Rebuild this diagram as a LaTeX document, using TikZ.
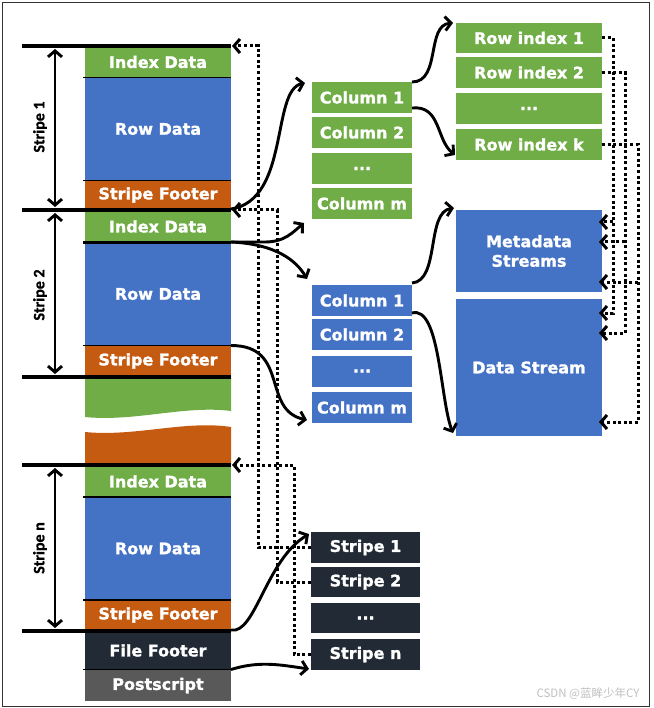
\documentclass[tikz,border=0pt]{standalone}
\usepackage{fontspec}
\setmainfont{DejaVu Sans}[BoldFeatures={FakeBold=1.3}]
\newfontfamily\carl{Carlito}[BoldFeatures={FakeBold=1}]
\newfontfamily\cjk{Noto Sans CJK SC}
\usetikzlibrary{arrows.meta,calc}
\definecolor{cgreen}{HTML}{70AD47}
\definecolor{cblue}{HTML}{4472C4}
\definecolor{corange}{HTML}{C55A11}
\definecolor{cdark}{HTML}{222A35}
\definecolor{cgray}{HTML}{595959}
\tikzset{
  blk/.style={rectangle, inner sep=0pt, outer sep=0pt, text=white,
    font=\bfseries\fontsize{16}{19.5}\selectfont, align=center},
  lblk/.style={blk, minimum width=146pt},
  mblk/.style={blk, minimum width=100pt, minimum height=31pt},
  rblk/.style={blk, minimum width=146pt},
  fblk/.style={blk, minimum width=109pt, fill=cdark},
  bound/.style={line width=3.8pt},
  sep/.style={line width=1.8pt},
  barb/.tip={Straight Barb[length=6pt,width=14pt]},
  conn/.style={line width=2.9pt, -barb},
  dimarr/.style={line width=2.9pt, barb-barb},
  dotc/.style={line width=3pt, dash pattern=on 3pt off 2.6pt, -barb},
  slabel/.style={rotate=90, font=\carl\bfseries\fontsize{16}{18}\selectfont}
}
\begin{document}
\begin{tikzpicture}[x=1pt,y=-1pt]
\useasboundingbox (0,0) rectangle (653,708);
\draw[line width=1pt, black!80] (2.5,2.5) rectangle (649,706);

% ---- left file column ----
\node[lblk, fill=cgreen,  minimum height=30pt]  (s1id) at (158,62)    {Index Data};
\node[lblk, fill=cblue,   minimum height=102pt] (s1rd) at (158,129)   {Row Data};
\node[lblk, fill=corange, minimum height=28pt]  (s1sf) at (158,195)   {Stripe Footer};
\node[lblk, fill=cgreen,  minimum height=31pt]  (s2id) at (158,226.5) {Index Data};
\node[lblk, fill=cblue,   minimum height=103pt] (s2rd) at (158,294)   {Row Data};
\node[lblk, fill=corange, minimum height=31pt]  (s2sf) at (158,361)   {Stripe Footer};
\node[lblk, fill=cgreen,  minimum height=31pt]  (snid) at (158,481.5) {Index Data};
\node[lblk, fill=cblue,   minimum height=103pt] (snrd) at (158,548.5) {Row Data};
\node[lblk, fill=corange, minimum height=30pt]  (snsf) at (158,615)   {Stripe Footer};
\node[lblk, fill=cdark,   minimum height=38pt]  (ff)   at (158,650.5) {File Footer};
\node[lblk, fill=cgray,   minimum height=31pt]  (ps)   at (158,685.5) {Postscript};

% wavy break
\fill[cgreen] (85,376) -- (231,376) -- (231,411)
  .. controls (185,405) and (135,422) .. (85,417) -- cycle;
\fill[corange] (85,432) .. controls (135,437) and (185,420) .. (231,427)
  -- (231,465) -- (85,465) -- cycle;

% separators
\draw[sep] (83,77.5) -- (231,77.5);
\draw[sep] (83,180.5) -- (231,180.5);
\draw[sep] (83,345.5) -- (231,345.5);
\draw[sep] (83,497) -- (231,497);
\draw[sep] (83,600) -- (231,600);
\draw[sep] (83,669.5) -- (231,669.5);
\draw[line width=2.6pt] (83,242.5) -- (231,242.5);

% stripe boundaries
\coordinate (b1) at (231,46);
\coordinate (b2) at (231,210);
\coordinate (b3) at (231,377);
\coordinate (b4) at (231,465);
\coordinate (b5) at (231,631);
\draw[bound] (22,46) -- (b1);
\draw[bound] (22,210) -- (b2);
\draw[bound] (22,377) -- (b3);
\draw[bound] (22,465) -- (b4);
\draw[bound] (22,631) -- (b5);

% stripe dimension arrows
\draw[dimarr] (55,49) -- (55,207);
\draw[dimarr] (55,213) -- (55,374);
\draw[dimarr] (55,468) -- (55,628);
\node[slabel] (l1) at (40,127) {Stripe 1};
\node[slabel] (l2) at (40,295) {Stripe 2};
\node[slabel] (ln) at (40,548) {Stripe n};

% ---- middle green columns ----
\node[mblk, fill=cgreen] (gc1) at (362,97.5)  {Column 1};
\node[mblk, fill=cgreen] (gc2) at (362,132.5) {Column 2};
\node[mblk, fill=cgreen] (gc3) at (362,168.5) {...};
\node[mblk, fill=cgreen] (gcm) at (362,203.5) {Column m};

% ---- middle blue columns ----
\node[mblk, fill=cblue] (bc1) at (362,300.5) {Column 1};
\node[mblk, fill=cblue] (bc2) at (362,334.5) {Column 2};
\node[mblk, fill=cblue] (bc3) at (362,371)   {...};
\node[mblk, fill=cblue] (bcm) at (362,407.5) {Column m};

% ---- row indexes ----
\node[rblk, fill=cgreen, minimum height=30pt] (ri1) at (529,38)    {Row index 1};
\node[rblk, fill=cgreen, minimum height=31pt] (ri2) at (529,72.5)  {Row index 2};
\node[rblk, fill=cgreen, minimum height=31pt] (ri3) at (529,108.5) {...};
\node[rblk, fill=cgreen, minimum height=31pt] (rik) at (529,144.5) {Row index k};

% ---- streams ----
\node[rblk, fill=cblue, minimum height=82pt]  (ms) at (529,251)   {Metadata\\Streams};
\node[rblk, fill=cblue, minimum height=137pt] (ds) at (529,367.5) {Data Stream};

% ---- footer stripe list ----
\node[fblk, minimum height=31pt] (fs1) at (365.5,547.5) {Stripe 1};
\node[fblk, minimum height=30pt] (fs2) at (365.5,582)   {Stripe 2};
\node[fblk, minimum height=30pt] (fs3) at (365.5,618)   {...};
\node[fblk, minimum height=31pt] (fsn) at (365.5,654.5) {Stripe n};

% ---- dotted pointers (left) ----
\draw[dotc] (fs1.west) -| (258,46) -- ($(b1)+(1,0)$);
\draw[dotc] (fs2.west) -| (277,210) -- ($(b2)+(1,0)$);
\draw[dotc] (fsn.west) -| (294,465) -- ($(b4)+(1,0)$);

% ---- dotted pointers (right) ----
\draw[dotc] (ri1.east) -| (613,313) -- (599,313);
\draw[dotc] (613,222) -- (599,222);
\draw[dotc] (ri2.east) -| (625,333) -- (599,333);
\draw[dotc] (625,242) -- (599,242);
\draw[dotc] (rik.east) -| (638,422) -- (599,422);
\draw[dotc] (638,282) -- (599,282);

% ---- solid connectors ----
\draw[conn] (s1sf.south east) .. controls +(59,-9) and +(-34,7) .. ($(gc1.north west)+(-7,1)$);
\draw[conn] (s2id.south east) -- ++(34,0) .. controls +(20,0) and +(-11,9) .. ($(gcm.south west)+(-8,4)$);
\draw[conn] (s2id.south east) .. controls +(44,2) and +(-11,-19) .. ($(bc1.north west)+(-5,-6)$);
\draw[conn] (s2rd.south east) .. controls +(59,0) and +(-46,-10) .. ($(bcm.south west)+(-5,-3)$);
\draw[conn] (gc1.north east) .. controls +(29,0) and +(-27,2) .. ($(ri1.north west)+(-3,0)$);
\draw[conn] ($(gc1.south east)+(0,-5)$) .. controls +(29,-3) and +(-19,-15) .. ($(rik.south west)+(-1,-5)$);
\draw[conn] ($(bc1.north east)+(0,-2)$) .. controls +(28,-2) and +(-28,4) .. ($(ms.north west)+(-2,-2)$);
\draw[conn] ($(bc1.south east)+(0,-3)$) .. controls +(28,-8) and +(-13,-33) .. ($(ds.south west)+(-3,-3)$);
\draw[conn] (snsf.south east) .. controls +(24,5) and +(-43,26) .. ($(fs1.north west)+(-2,2)$);
\draw[conn] (ff.south east) .. controls +(29,-9) and +(-28,-4) .. ($(fsn.south west)+(-2,-1)$);

% watermark
\node[text=black!25, font=\cjk\fontsize{11.5}{12}\selectfont] (wm) at (588,694) {CSDN @蓝眸少年CY};
\end{tikzpicture}
\end{document}
